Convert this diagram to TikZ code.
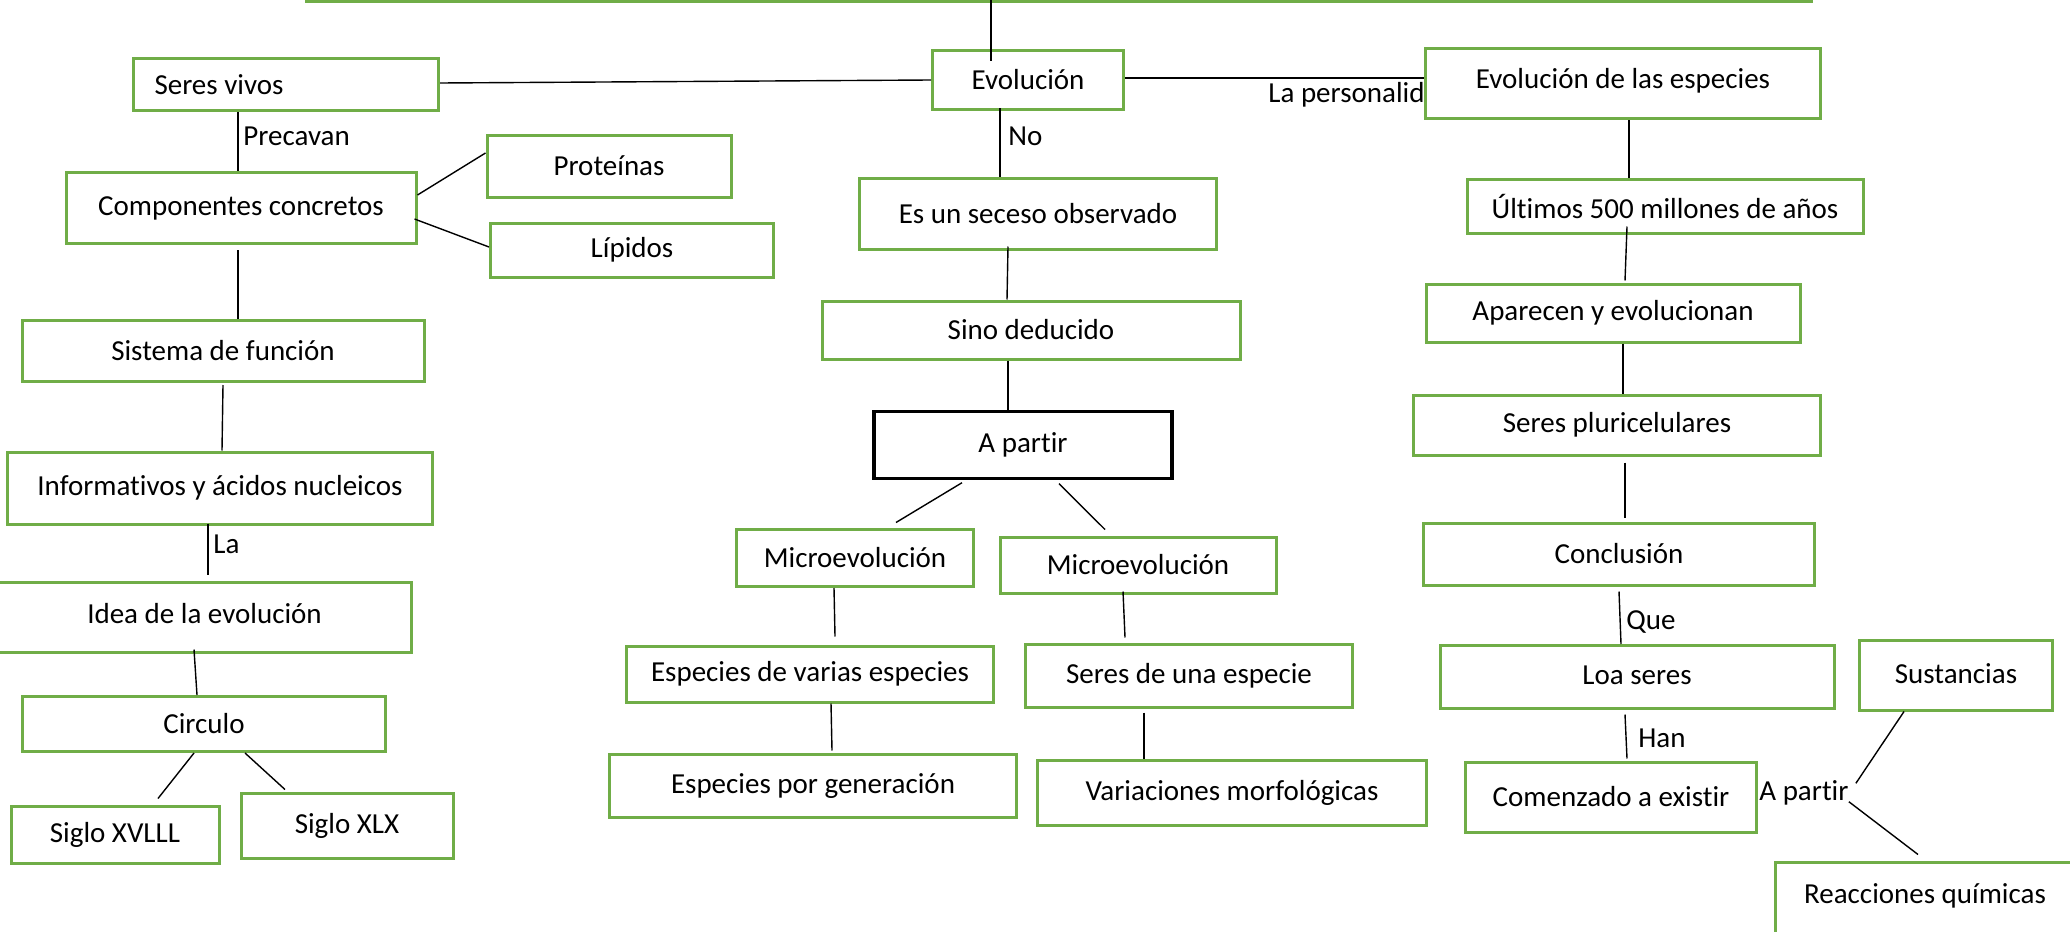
\documentclass[tikz,border=0pt]{standalone}
\usepackage{fontspec}
\setmainfont{Carlito}[Ligatures={NoCommon}]
\definecolor{boxgreen}{HTML}{70AD47}
\begin{document}
\begin{tikzpicture}[x=0.5pt,y=-0.5pt,
  every node/.style={font=\fontsize{14.5}{17}\selectfont},
  gbox/.style={draw=boxgreen, line width=1.5pt, fill=white, inner sep=0pt},
  kbox/.style={draw=black, line width=1.7pt, fill=white, inner sep=0pt},
  lbl/.style={inner sep=0pt},
  conn/.style={draw=black, line width=0.7pt}]
\clip (0,0) rectangle (2070,931);
\fill[white] (0,0) rectangle (2070,931);
% top line
\coordinate (tl) at (305,1.5);
\coordinate (tr) at (1813,1.5);
\coordinate (evtop) at (991,0);
\draw[boxgreen, line width=1.5pt] (tl) -- (tr);
% label under box
\node[lbl, anchor=east] (lper) at (1425,95) {La personalid};
% left column
\node[gbox, minimum width=152.5pt, minimum height=26pt] (sv) at (286,85) {\hbox to 131.5pt{\raisebox{-4pt}{Seres vivos}\hfil}};
\node[gbox, minimum width=175pt, minimum height=35.5pt] (cc) at (241,208) {Componentes concretos};
\node[gbox, minimum width=122pt, minimum height=31pt] (pr) at (609,166) {Proteínas};
\node[gbox, minimum width=141.5pt, minimum height=27pt] (li) at (632,250) {Lípidos};
\node[gbox, minimum width=201pt, minimum height=30.5pt] (sf) at (223,351) {Sistema de función};
\node[gbox, minimum width=212.5pt, minimum height=36pt] (inf) at (220,488) {Informativos y ácidos nucleicos};
\node[gbox, minimum width=206.5pt, minimum height=35pt] (idea) at (204.5,617) {\raisebox{4pt}{Idea de la evolución}};
\node[gbox, minimum width=181.5pt, minimum height=27.5pt] (ci) at (204,724) {Circulo};
\node[gbox, minimum width=104pt, minimum height=28.5pt] (s18) at (115,835) {Siglo XVLLL};
\node[gbox, minimum width=106pt, minimum height=32.5pt] (s19) at (347,826) {Siglo XLX};
% center column
\node[gbox, minimum width=95.5pt, minimum height=29.5pt] (ev) at (1028,80) {\raisebox{-2.6pt}{Evolución}};
\node[gbox, minimum width=178.5pt, minimum height=35.5pt] (obs) at (1038,214) {\raisebox{1pt}{Es un seceso observado}};
\node[gbox, minimum width=209pt, minimum height=29pt] (sino) at (1031,330) {Sino deducido};
\node[kbox, minimum width=149pt, minimum height=33.5pt] (ap) at (1023,445) {A partir};
\node[gbox, minimum width=118.5pt, minimum height=28.5pt] (m1) at (855,558) {\raisebox{-2.6pt}{Microevolución}};
\node[gbox, minimum width=138pt, minimum height=28pt] (m2) at (1138,565) {Microevolución};
\node[gbox, minimum width=183.5pt, minimum height=28pt] (eve) at (810,674) {Especies de varias especies};
\node[gbox, minimum width=163.5pt, minimum height=31.5pt] (sue) at (1189,676) {Seres de una especie};
\node[gbox, minimum width=203.5pt, minimum height=31.5pt] (epg) at (813,786) {Especies por generación};
\node[gbox, minimum width=194.5pt, minimum height=32.5pt] (vm) at (1232,793) {Variaciones morfológicas};
% right column
\node[gbox, minimum width=197.5pt, minimum height=35pt] (ees) at (1623,84) {\raisebox{5.5pt}{Evolución de las especies}};
\node[gbox, minimum width=198pt, minimum height=27pt] (ult) at (1665,206) {Últimos 500 millones de años};
\node[gbox, minimum width=187pt, minimum height=29pt] (apa) at (1613,313) {Aparecen y evolucionan};
\node[gbox, minimum width=203.5pt, minimum height=30pt] (spl) at (1617,425) {Seres pluricelulares};
\node[gbox, minimum width=195.5pt, minimum height=31pt] (con) at (1619,554) {Conclusión};
\node[gbox, minimum width=197pt, minimum height=31.5pt] (loa) at (1637,677) {\raisebox{1.5pt}{Loa seres}};
\node[gbox, minimum width=145.5pt, minimum height=35pt] (com) at (1611,797) {Comenzado a existir};
\node[gbox, minimum width=96.5pt, minimum height=35pt] (sus) at (1956,675) {\raisebox{1.5pt}{Sustancias}};
\node[gbox, minimum width=150pt, minimum height=38pt] (rq) at (1925,900) {\raisebox{6pt}{Reacciones químicas}};
% connector labels
\node[lbl, anchor=west] (lprec) at (243,136) {Precavan};
\node[lbl, anchor=west] (lno) at (1008,136) {No};
\node[lbl, anchor=west] (lla) at (213,544) {La};
\node[lbl, anchor=west] (lque) at (1626,622) {Que};
\node[lbl, anchor=west] (lhan) at (1638,738) {Han};
\node[lbl, anchor=west] (apl) at (1759,793) {A partir};
% connectors
\draw[conn] (evtop) -- ([xshift=-18.5pt,yshift=-6pt]ev.north);
\draw[conn] ([yshift=1pt]sv.east) -- (ev.west);
\draw[conn] ([yshift=1pt]ev.east) -- ([yshift=3pt]ees.west);
\draw[conn] ([xshift=-24pt]sv.south) -- ([xshift=-1.5pt]cc.north);
\draw[conn] ([yshift=6.5pt]cc.east) -- ([yshift=6.5pt]pr.west);
\draw[conn] ([xshift=-1.5pt,yshift=-5.5pt]cc.east) -- ([yshift=1.5pt]li.west);
\draw[conn] ([xshift=-1.5pt,yshift=-2.5pt]cc.south) -- ([xshift=7.5pt]sf.north);
\draw[conn] ([yshift=-1pt]sf.south) -- ([xshift=1pt]inf.north);
\draw[conn] ([xshift=-6pt,yshift=1pt]inf.south) -- ([xshift=1.75pt,yshift=3pt]idea.north);
\draw[conn] ([xshift=-5.25pt,yshift=2pt]idea.south) -- ([xshift=-3.5pt]ci.north);
\draw[conn] ([xshift=-5pt]ci.south) -- ([xshift=21.5pt,yshift=3.25pt]s18.north);
\draw[conn] ([xshift=20.5pt]ci.south) -- ([xshift=-31pt,yshift=1.25pt]s19.north);
\draw[conn] ([xshift=-14pt,yshift=1.25pt]ev.south) -- ([xshift=-19pt]obs.north);
\draw[conn] ([xshift=-15pt,yshift=2.25pt]obs.south) -- ([xshift=-12pt]sino.north);
\draw[conn] ([xshift=-11.5pt]sino.south) -- ([xshift=-7.5pt]ap.north);
\draw[conn] ([xshift=-30.5pt,yshift=-1.25pt]ap.south) -- ([xshift=20.5pt,yshift=2.75pt]m1.north);
\draw[conn] ([xshift=18pt,yshift=-1.75pt]ap.south) -- ([xshift=-16.5pt,yshift=3pt]m2.north);
\draw[conn] ([xshift=-10.5pt]m1.south) -- ([xshift=12.5pt,yshift=4pt]eve.north);
\draw[conn] ([xshift=-7.5pt,yshift=1.5pt]m2.south) -- ([xshift=-32pt,yshift=2.75pt]sue.north);
\draw[conn] ([xshift=10.5pt]eve.south) -- ([xshift=9.5pt,yshift=1.25pt]epg.north);
\draw[conn] ([xshift=-22.5pt,yshift=-1.75pt]sue.south) -- ([xshift=-44pt]vm.north);
\draw[conn, line width=1.4pt] ([xshift=3pt]ees.south) -- ([xshift=-18pt]ult.north);
\draw[conn] ([xshift=-19pt,yshift=4pt]ult.south) -- ([xshift=6pt,yshift=1pt]apa.north);
\draw[conn] ([xshift=5pt]apa.south) -- ([xshift=3pt]spl.north);
\draw[conn] ([xshift=4pt,yshift=-3pt]spl.south) -- ([xshift=3pt,yshift=2pt]con.north);
\draw[conn] ([yshift=-2.5pt]con.south) -- ([xshift=-8pt]loa.north);
\draw[conn] ([xshift=-6pt,yshift=-2.25pt]loa.south) -- ([xshift=8pt,yshift=1pt]com.north);
\draw[conn] ([xshift=-26pt]sus.south) -- ([xshift=3.5pt,yshift=-1.5pt]apl.north east);
\draw[conn] ([yshift=2pt]apl.south east) -- ([xshift=-3.5pt,yshift=3pt]rq.north);
\end{tikzpicture}
\end{document}
